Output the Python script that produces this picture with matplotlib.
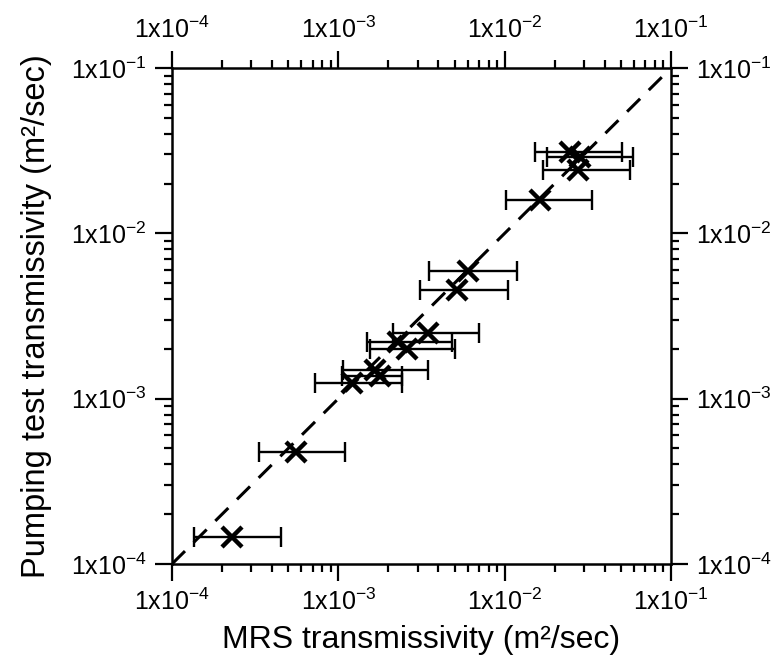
import numpy as np
from matplotlib import pyplot as plt
from matplotlib.ticker import LogLocator, FixedLocator, NullFormatter

plt.rcParams['font.family'] = ['Liberation Sans', 'DejaVu Sans']
plt.rcParams['mathtext.fontset'] = 'custom'
plt.rcParams['mathtext.rm'] = 'Liberation Sans'

# MRS transmissivity (x), pumping test transmissivity (y), x error bounds
mrs_T = [2.29e-4, 5.54e-4, 1.20e-3, 1.66e-3, 1.78e-3, 2.29e-3, 2.59e-3,
         3.48e-3, 5.20e-3, 6.05e-3, 1.63e-2, 2.47e-2, 2.84e-2, 2.76e-2]
pump_T = [1.45e-4, 4.79e-4, 1.25e-3, 1.50e-3, 1.38e-3, 2.19e-3, 1.99e-3,
          2.50e-3, 4.57e-3, 5.89e-3, 1.58e-2, 3.11e-2, 2.90e-2, 2.42e-2]
mrs_lo = [1.36e-4, 3.34e-4, 7.24e-4, 1.07e-3, 1.05e-3, 1.49e-3, 1.55e-3,
          2.12e-3, 3.10e-3, 3.52e-3, 1.02e-2, 1.52e-2, 1.80e-2, 1.70e-2]
mrs_hi = [4.51e-4, 1.10e-3, 2.40e-3, 3.46e-3, 2.41e-3, 4.83e-3, 5.03e-3,
          7.05e-3, 1.04e-2, 1.18e-2, 3.34e-2, 5.08e-2, 5.92e-2, 5.67e-2]

axis_min, axis_max = 1e-4, 1e-1
decades = [1e-4, 1e-3, 1e-2, 1e-1]
tick_labels = [r'1x10$^{-4}$', r'1x10$^{-3}$', r'1x10$^{-2}$', r'1x10$^{-1}$']

fig = plt.figure(figsize=(7.81, 6.64), dpi=100)
ax = fig.add_axes([0.2202, 0.1506, 0.639, 0.747])

x = np.array(mrs_T)
y = np.array(pump_T)
xerr = [x - np.array(mrs_lo), np.array(mrs_hi) - x]

ax.plot([axis_min, axis_max], [axis_min, axis_max], color='black', lw=2.2,
        dashes=(6, 4), zorder=1)
ax.errorbar(x, y, xerr=xerr, fmt='none', ecolor='black', elinewidth=1.7,
            capsize=7, capthick=1.7, zorder=2)
ax.plot(x, y, 'x', color='black', markersize=15, mew=3.2, zorder=3)

ax.set_xscale('log')
ax.set_yscale('log')
ax.set_xlim(axis_min, axis_max)
ax.set_ylim(axis_min, axis_max)

for axis in [ax.xaxis, ax.yaxis]:
    axis.set_major_locator(FixedLocator(decades))
    axis.set_minor_locator(LogLocator(base=10, subs=np.arange(2, 10)))
    axis.set_minor_formatter(NullFormatter())
ax.set_xticklabels(tick_labels)
ax.set_yticklabels(tick_labels)

ax.tick_params(which='both', direction='out', top=True, right=True,
               labeltop=True, labelright=True, width=1.6, labelsize=18)
ax.tick_params(which='major', length=12, pad=6)
ax.tick_params(which='minor', length=6)
for s in ax.spines.values():
    s.set_linewidth(1.8)

ax.set_xlabel('MRS transmissivity (m²/sec)', fontsize=23, labelpad=7)
ax.set_ylabel('Pumping test transmissivity (m²/sec)', fontsize=23.5, labelpad=14)

fig.savefig('out.png', dpi=100)
